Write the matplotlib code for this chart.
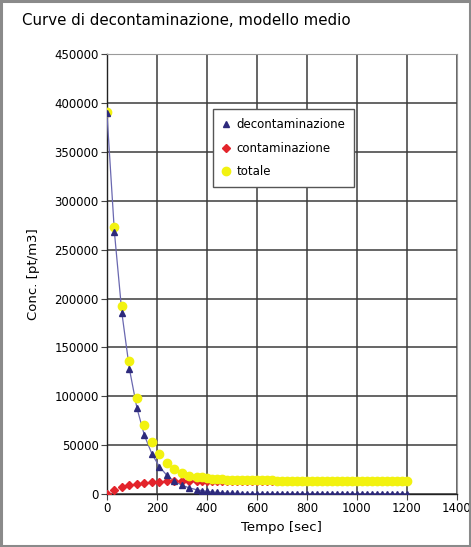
import numpy as np
import matplotlib.pyplot as plt
from matplotlib.patches import Rectangle
from matplotlib.lines import Line2D

# tempo [sec]: ogni 30 s fino a 360, poi ogni 20 s
tempo = list(range(0, 361, 30)) + list(range(380, 1201, 20))

decontaminazione = [390000, 268000, 185000, 128000, 88000, 60000, 41000, 28000,
                    19000, 13000, 9000, 6200, 4300,
                    3400, 2700, 2100, 1700, 1300, 1000, 800, 650, 500, 400,
                    300, 250, 200, 150, 120, 90, 70, 55, 45, 35,
                    28, 22, 17, 13, 10, 8, 6, 5, 4, 3,
                    2, 2, 1, 1, 1, 1, 0, 0, 0, 0, 0, 0]
contaminazione = [0, 4000, 6900, 8900, 10300, 11300, 12000, 12500, 12800, 13100,
                  13300, 13400, 13500,
                  13550, 13580, 13600, 13620, 13640, 13650, 13660, 13670, 13680,
                  13690] + [13700] * 32
totale = [391000, 273000, 192000, 136000, 98000, 71000, 53000, 40500, 31700, 25500,
          21500, 18800, 17600,
          16900, 16300, 15700, 15300, 14950, 14700, 14500, 14320, 14180, 14090,
          14000, 13950, 13900, 13860, 13830, 13800, 13780, 13765, 13750, 13740,
          13730, 13722, 13717, 13713, 13710] + [13700] * 17

x_ticks = list(range(0, 1401, 200))
y_ticks = list(range(0, 450001, 50000))

blu = '#2d2a7c'
rosso = '#e3242b'
giallo = '#f2f210'

fig = plt.figure(figsize=(4.71, 5.47), dpi=100)
fig.patch.set_facecolor('white')
fig.patches.append(Rectangle((0.002, 0.002), 0.996, 0.996, transform=fig.transFigure,
                             fill=False, edgecolor='#8a8a8a', linewidth=2.2))

ax = fig.add_axes([0.227, 0.0969, 0.743, 0.804])
ax.plot(tempo, decontaminazione, color='#6a68b0', linewidth=0.9, zorder=3)
ax.plot(tempo, decontaminazione, linestyle='none', marker='^', markersize=5,
        color=blu, zorder=5)
ax.plot(tempo, contaminazione, linestyle='none', marker='D', markersize=3.6,
        color=rosso, zorder=3)
ax.plot(tempo, totale, linestyle='none', marker='o', markersize=6,
        color=giallo, zorder=4)

ax.set_xlim(0, 1400)
ax.set_ylim(0, 450000)
ax.set_xticks(x_ticks)
ax.set_yticks(y_ticks)
ax.grid(True, color='#3c3c3c', linewidth=1.1)
ax.set_axisbelow(True)
for s in ['top', 'right']:
    ax.spines[s].set_color('#9a9a9a')
for s in ['left', 'bottom']:
    ax.spines[s].set_color('#222222')
    ax.spines[s].set_linewidth(1.0)
ax.tick_params(labelsize=8.5, length=4, width=0.8, color='#444444', pad=2)

ax.set_xlabel('Tempo [sec]', fontsize=9.5, labelpad=4)
ax.set_ylabel('Conc. [pt/m3]', fontsize=9.5, labelpad=10)
fig.text(0.047, 0.963, 'Curve di decontaminazione, modello medio', fontsize=10.8,
         ha='left', va='center')

handles = [
    Line2D([], [], linestyle='none', marker='^', markersize=5, color=blu),
    Line2D([], [], linestyle='none', marker='D', markersize=3.6, color=rosso),
    Line2D([], [], linestyle='none', marker='o', markersize=6, color=giallo),
]
leg = ax.legend(handles, ['decontaminazione', 'contaminazione', 'totale'],
                loc='upper left', bbox_to_anchor=(0.285, 0.888), fontsize=8.5,
                frameon=True, fancybox=False, edgecolor='#555555',
                framealpha=1, handlelength=0.8, handletextpad=0.5,
                labelspacing=0.9, borderpad=0.75)
leg.get_frame().set_linewidth(1.0)

fig.savefig('out.png', dpi=100)
